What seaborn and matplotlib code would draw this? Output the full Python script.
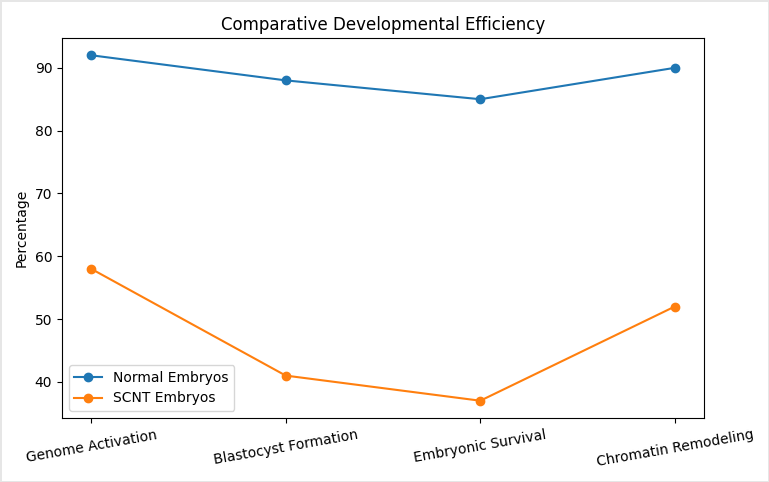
import matplotlib
matplotlib.use("Agg")
import matplotlib.pyplot as plt
import seaborn as sns
import pandas as pd

stages = ["Genome Activation", "Blastocyst Formation", "Embryonic Survival", "Chromatin Remodeling"]
normal = [92, 88, 85, 90]
scnt = [58, 41, 37, 52]

df_n = pd.DataFrame({"Stage": stages, "Percentage": normal})
df_s = pd.DataFrame({"Stage": stages, "Percentage": scnt})

fig = plt.figure(figsize=(7.69, 4.82), dpi=100)
fig.patch.set_edgecolor("#e6e6e6")
fig.patch.set_linewidth(2)
ax = fig.add_axes([0.0806, 0.1328, 0.8349, 0.7884])

sns.lineplot(data=df_n, x="Stage", y="Percentage", ax=ax, color="#1f77b4", marker="o",
             markersize=6, markeredgecolor="#1f77b4", markeredgewidth=1, sort=False,
             label="Normal Embryos")
sns.lineplot(data=df_s, x="Stage", y="Percentage", ax=ax, color="#ff7f0e", marker="o",
             markersize=6, markeredgecolor="#ff7f0e", markeredgewidth=1, sort=False,
             label="SCNT Embryos")

ax.set_title("Comparative Developmental Efficiency", fontsize=12)
ax.set_xlabel("")
ax.set_ylabel("Percentage")
ax.set_xticks(range(len(stages)))
ax.set_xticklabels(stages, rotation=10, ha="center")
ax.legend(loc="lower left")

fig.savefig("out.png", dpi=100, edgecolor=fig.get_edgecolor())
